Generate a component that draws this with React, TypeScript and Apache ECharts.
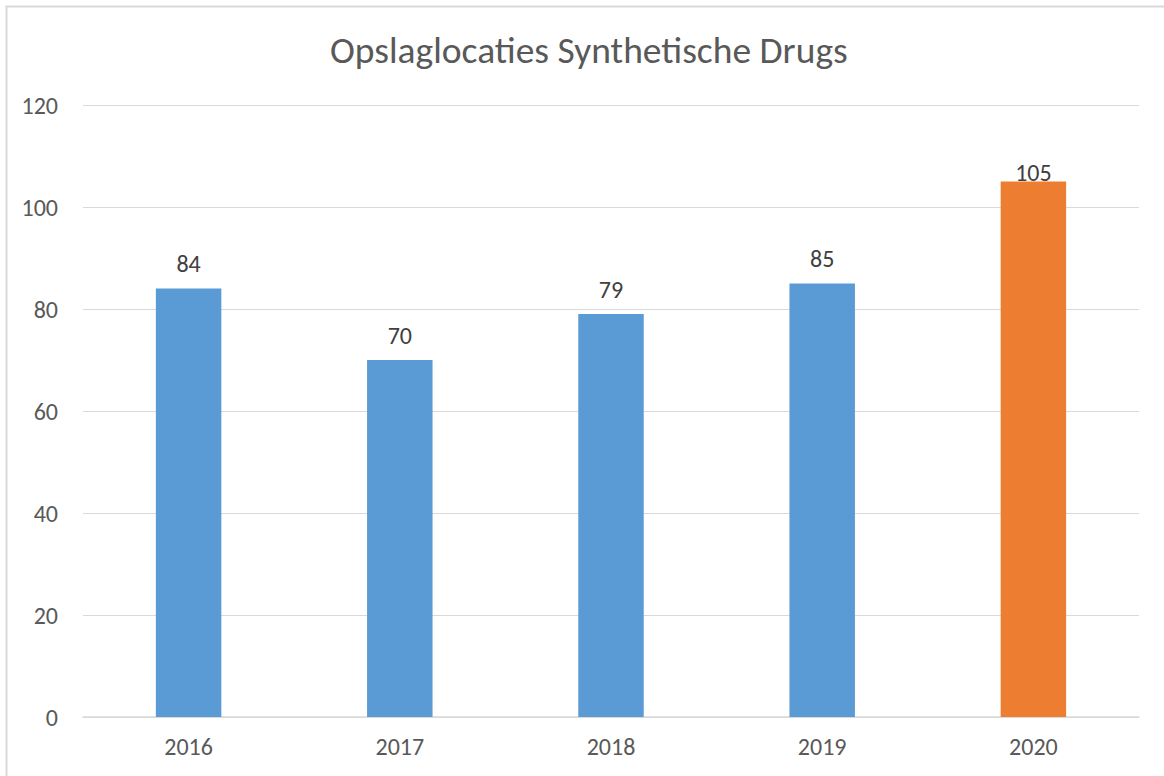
import React, { useEffect, useRef } from "react";
import * as echarts from "echarts";

const categories = ["2016", "2017", "2018", "2019", "2020"];
const values = [84, 70, 79, 85, 105];
const barColors = ["#5B9BD5", "#5B9BD5", "#5B9BD5", "#5B9BD5", "#ED7D31"];
const titleText = "Opslaglocaties Synthetische Drugs";

export default function App() {
  const ref = useRef<HTMLDivElement>(null);
  useEffect(() => {
    if (!ref.current) return;
    const chart = echarts.init(ref.current, undefined, { renderer: "svg" });
    const font = "Carlito, 'Noto Sans', 'Open Sans', sans-serif";
    chart.setOption({
      animation: false,
      backgroundColor: "#ffffff",
      title: {
        text: titleText,
        left: 325,
        top: 26,
        textStyle: { fontFamily: font, fontSize: 37.5, fontWeight: "normal", color: "#595959" },
      },
      graphic: [
        {
          type: "rect",
          shape: { x: 6.5, y: 6.5, width: 1170, height: 800 },
          style: { fill: "none", stroke: "#d9d9d9", lineWidth: 2 },
          silent: true,
        },
      ],
      grid: { left: 83, right: 25, top: 105, bottom: 59, containLabel: false },
      xAxis: {
        type: "category",
        data: categories,
        axisLine: { show: true, lineStyle: { color: "#d9d9d9", width: 1.5 } },
        axisTick: { show: false },
        axisLabel: { color: "#595959", fontSize: 24, fontFamily: font, margin: 17 },
      },
      yAxis: {
        type: "value",
        min: 0,
        max: 120,
        interval: 20,
        axisLine: { show: false },
        axisTick: { show: false },
        splitLine: { lineStyle: { color: "#d9d9d9", width: 1.2 } },
        axisLabel: { color: "#595959", fontSize: 24, fontFamily: font, margin: 25 },
      },
      series: [
        {
          type: "bar",
          barWidth: "31%",
          data: values.map((v, i) => ({
            value: v,
            itemStyle: { color: barColors[i] },
            label: i === 4 ? { distance: -3 } : undefined,
          })),
          label: {
            show: true,
            position: "top",
            distance: 13,
            color: "#404040",
            fontSize: 24,
            fontFamily: font,
          },
        },
      ],
    });
    return () => chart.dispose();
  }, []);
  return (
    <div
      ref={ref}
      style={{ position: "fixed", left: 0, top: 0, width: 1164, height: 776 }}
    />
  );
}
